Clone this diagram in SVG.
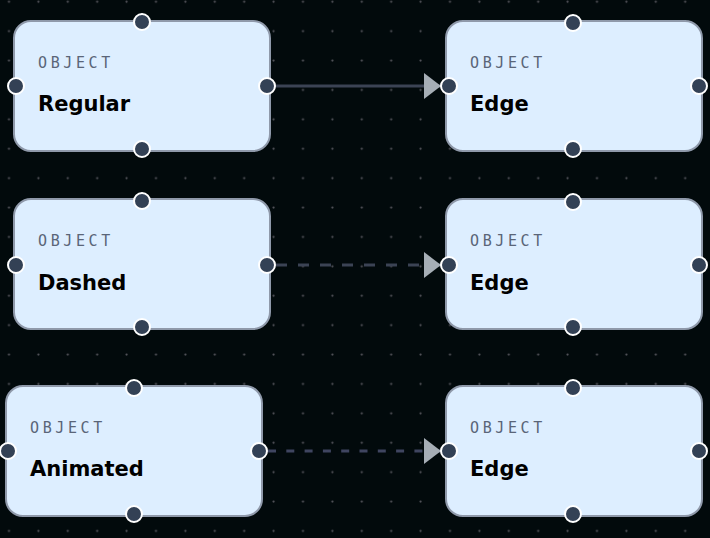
<svg xmlns="http://www.w3.org/2000/svg" width="710" height="538" viewBox="0 0 710 538">
<defs>
<pattern id="dots" x="7.5" y="0.2" width="29.4" height="29.4" patternUnits="userSpaceOnUse">
<circle cx="1.5" cy="1.5" r="1.1" fill="#55555c"/>
</pattern>
<marker id="arrow" markerWidth="18" markerHeight="26" refX="17" refY="13" orient="auto" markerUnits="userSpaceOnUse">
<path d="M0,0 L17,13 L0,26 Z" fill="#a6aeb6"/>
</marker>
<style>
.box{fill:#ddeeff;stroke:#8f99aa;stroke-width:2}
.h{fill:#334155;stroke:#ffffff;stroke-width:2}
.lbl{font-family:"DejaVu Sans Mono","Liberation Mono",monospace;font-size:15px;letter-spacing:3.6px;fill:#5a6578}
.ttl{font-family:"DejaVu Sans","Liberation Sans",sans-serif;font-size:21px;font-weight:bold;fill:#000000}
.e{fill:none;stroke-width:3}
</style>
</defs>
<rect width="710" height="538" fill="#020a0c"/>
<rect width="710" height="538" fill="url(#dots)"/>
<g id="connectors">
<path class="e" d="M267,86 L441,86" stroke="#3b4354" marker-end="url(#arrow)"/>
<path class="e" d="M267,265 L441,265" stroke="#3b4354" stroke-dasharray="11 11" stroke-dashoffset="13" marker-end="url(#arrow)"/>
<path class="e" d="M259,451 L441,451" stroke="#3f4560" stroke-dasharray="8 10.3" stroke-dashoffset="9.3" marker-end="url(#arrow)"/>
</g>
<g id="node-regular">
<rect class="box" x="14" y="21" width="256" height="130" rx="17"/>
<text class="lbl" x="38" y="68">OBJECT</text>
<text class="ttl" x="38" y="111">Regular</text>
<circle class="h" cx="142" cy="22" r="8"/>
<circle class="h" cx="16" cy="86" r="8"/>
<circle class="h" cx="267" cy="86" r="8"/>
<circle class="h" cx="142" cy="149" r="8"/>
</g>
<g id="node-edge1">
<rect class="box" x="446" y="21" width="256" height="130" rx="17"/>
<text class="lbl" x="470" y="68">OBJECT</text>
<text class="ttl" x="470" y="111">Edge</text>
<circle class="h" cx="573" cy="23" r="8"/>
<circle class="h" cx="449" cy="86" r="8"/>
<circle class="h" cx="699" cy="86" r="8"/>
<circle class="h" cx="573" cy="149" r="8"/>
</g>
<g id="node-dashed">
<rect class="box" x="14" y="199" width="256" height="130" rx="17"/>
<text class="lbl" x="38" y="246">OBJECT</text>
<text class="ttl" x="38" y="290">Dashed</text>
<circle class="h" cx="142" cy="201" r="8"/>
<circle class="h" cx="16" cy="265" r="8"/>
<circle class="h" cx="267" cy="265" r="8"/>
<circle class="h" cx="142" cy="327" r="8"/>
</g>
<g id="node-edge2">
<rect class="box" x="446" y="199" width="256" height="130" rx="17"/>
<text class="lbl" x="470" y="246">OBJECT</text>
<text class="ttl" x="470" y="290">Edge</text>
<circle class="h" cx="573" cy="202" r="8"/>
<circle class="h" cx="449" cy="265" r="8"/>
<circle class="h" cx="699" cy="265" r="8"/>
<circle class="h" cx="573" cy="327" r="8"/>
</g>
<g id="node-animated">
<rect class="box" x="6" y="386" width="256" height="130" rx="17"/>
<text class="lbl" x="30" y="433">OBJECT</text>
<text class="ttl" x="30" y="476">Animated</text>
<circle class="h" cx="134" cy="388" r="8"/>
<circle class="h" cx="8" cy="451" r="8"/>
<circle class="h" cx="259" cy="451" r="8"/>
<circle class="h" cx="134" cy="514" r="8"/>
</g>
<g id="node-edge3">
<rect class="box" x="446" y="386" width="256" height="130" rx="17"/>
<text class="lbl" x="470" y="433">OBJECT</text>
<text class="ttl" x="470" y="476">Edge</text>
<circle class="h" cx="573" cy="388" r="8"/>
<circle class="h" cx="449" cy="451" r="8"/>
<circle class="h" cx="699" cy="451" r="8"/>
<circle class="h" cx="573" cy="514" r="8"/>
</g>
</svg>
